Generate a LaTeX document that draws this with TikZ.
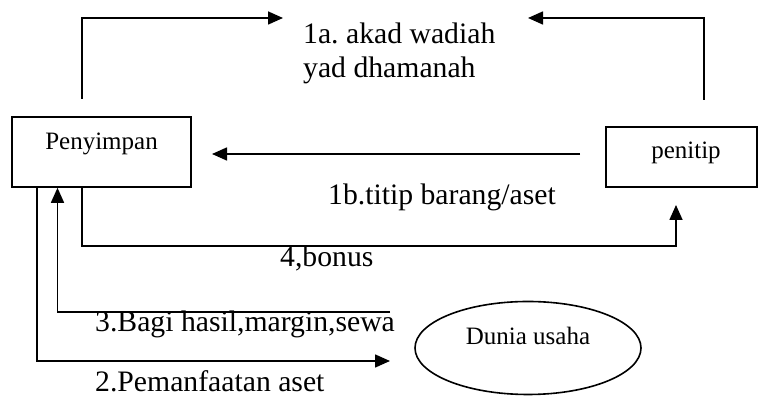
\documentclass[tikz,border=0pt]{standalone}
\usepackage{fontspec}
\setmainfont{Liberation Serif}
\usetikzlibrary{arrows.meta,shapes.geometric}
\frenchspacing
\tikzset{
  conn/.style={line width=1.6pt},
  arr/.style={conn,-{Triangle[length=15pt,width=13pt]}},
  boxnode/.style={draw,line width=1.6pt,rectangle,inner sep=0pt},
  ovalnode/.style={draw,line width=1.6pt,ellipse,inner sep=0pt,minimum width=226pt,minimum height=93pt},
  small/.style={inner sep=0pt,anchor=base,font=\fontsize{25}{30}\selectfont},
  big/.style={inner sep=0pt,anchor=base west,font=\fontsize{29.7}{34.7}\selectfont},
}
\begin{document}
\begin{tikzpicture}[x=1pt,y=1pt]
\useasboundingbox (0,0) rectangle (758,398);
% nodes
\node[boxnode,minimum width=179pt,minimum height=70pt] (pen) at (101.5,246) {};
\node[small] (penT) at (101.5,248) {Penyimpan};
\node[boxnode,minimum width=151pt,minimum height=60pt] (pnt) at (681.5,241) {};
\node[small] (pntT) at (686,239.5) {penitip};
\node[ovalnode] (dun) at (528,50) {};
\node[small] (dunT) at (528,53) {Dunia usaha};
% labels
\node[big] (l1a) at (303,354.7) {1a. akad wadiah};
\node[big] (l1a2) at (303,320) {yad dhamanah};
\node[big] (l1b) at (328,193) {1b.titip barang/aset};
\node[big] (l4) at (280,131) {4,bonus};
\node[big] (l3) at (95,66) {3.Bagi hasil,margin,sewa};
\node[big] (l2) at (95,6) {2.Pemanfaatan aset};
% free ends
\coordinate (s1aL) at (82,299);
\coordinate (e1aL) at (283,380);
\coordinate (s1aR) at (704,298);
\coordinate (e1aR) at (528,380);
\coordinate (s1b) at (580,244);
\coordinate (e1b) at (212,244);
\coordinate (e4) at (676,193);
\coordinate (s3) at (390,86);
\coordinate (e2) at (390,37);
% connectors
\draw[arr] (s1aL) |- (e1aL);
\draw[arr] (s1aR) |- (e1aR);
\draw[arr] (s1b) -- (e1b);
\draw[arr] (pen.south -| 82,0) |- (676,152) -- (e4);
\draw[arr] (s3) -| (pen.south -| 57.5,0);
\draw[arr] (pen.south -| 37,0) |- (e2);
\end{tikzpicture}
\end{document}
